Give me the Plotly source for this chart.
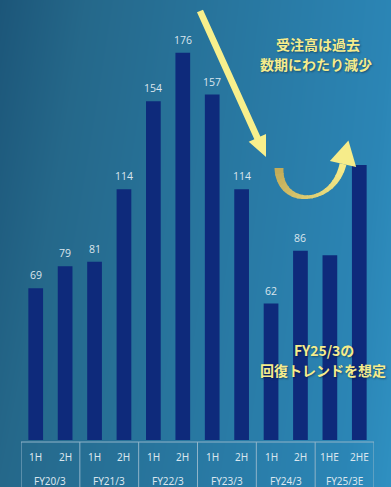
import numpy as np
import plotly.graph_objects as go

# ---- data ----
periods = ["FY20/3", "FY21/3", "FY22/3", "FY23/3", "FY24/3", "FY25/3E"]
halves = [["1H", "2H"]] * 5 + [["1HE", "2HE"]]
orders = [69, 79, 81, 114, 154, 176, 157, 114, 62, 86, 84, 125]
labelled = [True] * 10 + [False, False]
note_top = ["受注高は過去", "数期にわたり減少"]
note_bottom = ["FY25/3の", "回復トレンドを想定"]

W, H = 391, 487
categories = [f"{p} {h}" for p, hs in zip(periods, halves) for h in hs]

BAR = "#0e2a7b"
YELLOW = "#f6ec8c"
PALE = "#dbe6ee"
LINE = "#8fb4c9"

fig = go.Figure()

# background gradient on a full-page pixel axis
fig.add_trace(go.Heatmap(
    x=[0, W], y=[0, H], z=[[0.0, 0.9], [0.2, 1.0]], zsmooth="best",
    colorscale=[[0, "#1c5679"], [0.2, "#25688a"], [0.9, "#2b85b5"], [1, "#2f90c1"]],
    showscale=False, hoverinfo="skip", xaxis="x", yaxis="y"))

# order bars
fig.add_trace(go.Bar(
    x=categories, y=orders, xaxis="x2", yaxis="y2",
    marker=dict(color=BAR, line=dict(width=0)), width=0.5, hoverinfo="skip"))

annotations = []
for c, v, show in zip(categories, orders, labelled):
    if show:
        annotations.append(dict(
            x=c, y=v, xref="x2", yref="y2", text=str(v), showarrow=False,
            yanchor="bottom", yshift=4,
            font=dict(family="Open Sans", size=10.5, color=PALE)))

# table under the bars
shapes = [dict(type="rect", xref="x2", yref="y", x0=-0.5, x1=len(categories) - 0.5,
               y0=442, y1=495, line=dict(color=LINE, width=1), layer="above")]
for k in range(1, len(periods)):
    xb = 2 * k - 0.5
    shapes.append(dict(type="line", xref="x2", yref="y", x0=xb, x1=xb, y0=442, y1=495,
                       line=dict(color=LINE, width=1), layer="above"))
for i, (p, hs) in enumerate(zip(periods, halves)):
    for j, h in enumerate(hs):
        annotations.append(dict(x=2 * i + j, y=457, xref="x2", yref="y", text=h,
                                showarrow=False,
                                font=dict(family="Noto Sans", size=10, color=PALE)))
    annotations.append(dict(x=2 * i + 0.5, y=481, xref="x2", yref="y", text=p,
                            showarrow=False,
                            font=dict(family="Noto Sans", size=10, color=PALE)))

# callout texts
jp_font = dict(family="Noto Sans CJK JP", size=14, color=YELLOW, weight="bold",
               shadow="1px 1px 2px rgba(0,20,40,0.45)")
for txt, (cx, cy) in zip(note_top, [(318, 44), (316, 64)]):
    annotations.append(dict(x=cx, y=cy, xref="x", yref="y", text=txt,
                            showarrow=False, font=jp_font, borderpad=0))
for txt, (cx, cy) in zip(note_bottom, [(324, 350), (323, 370)]):
    annotations.append(dict(x=cx, y=cy, xref="x", yref="y", text=txt,
                            showarrow=False, font=jp_font, borderpad=0))


def path(pts):
    return "M " + " L ".join(f"{x:.2f},{y:.2f}" for x, y in pts) + " Z"


# straight downward arrow
tail = np.array([200.0, 11.0])
tip = np.array([266.0, 157.0])
u = (tip - tail) / np.linalg.norm(tip - tail)
n = np.array([-u[1], u[0]])
base = tip - u * 21
sw, hw = 3.3, 9.5
arrow_pts = [tail + n * sw, base + n * sw, base + n * hw, tip,
             base - n * hw, base - n * sw, tail - n * sw]
shapes.append(dict(type="path", xref="x", yref="y", path=path(arrow_pts),
                   fillcolor="#f8ef8c", line=dict(width=0), layer="above"))

# curved rebound arrow (cubic ribbon with tapering width)
P = np.array([[279, 168], [279, 208], [333, 207], [343, 164]], dtype=float)


def bez(t):
    t = np.atleast_1d(t)[:, None]
    return ((1 - t) ** 3) * P[0] + 3 * (1 - t) ** 2 * t * P[1] + 3 * (1 - t) * t ** 2 * P[2] + t ** 3 * P[3]


def dbez(t):
    t = np.atleast_1d(t)[:, None]
    return 3 * (1 - t) ** 2 * (P[1] - P[0]) + 6 * (1 - t) * t * (P[2] - P[1]) + 3 * t ** 2 * (P[3] - P[2])


def thick(t):
    return np.interp(t, [0, 0.5, 0.62, 1.0], [9.0, 3.5, 3.5, 7.0])


def hexmix(a, b, f):
    ca = np.array([int(a[i:i + 2], 16) for i in (1, 3, 5)])
    cb = np.array([int(b[i:i + 2], 16) for i in (1, 3, 5)])
    c = (ca + (cb - ca) * f).round().astype(int)
    return "#%02x%02x%02x" % tuple(c)


nseg = 18
edges = np.linspace(0, 1, nseg + 1)
for s in range(nseg):
    ts = np.linspace(max(edges[s] - 0.006, 0), min(edges[s + 1] + 0.006, 1), 6)
    c = bez(ts)
    d = dbez(ts)
    d = d / np.linalg.norm(d, axis=1)[:, None]
    nn = np.stack([-d[:, 1], d[:, 0]], axis=1)
    half = (thick(ts) / 2)[:, None]
    left = c + nn * half
    right = c - nn * half
    pts = list(left) + list(right[::-1])
    f = (edges[s] + edges[s + 1]) / 2
    col = hexmix("#c2aa58", "#f6ec8a", f)
    shapes.append(dict(type="path", xref="x", yref="y", path=path(pts),
                       fillcolor=col, line=dict(width=0), layer="above"))

end = bez(1.0)[0]
ud = dbez(1.0)[0]
ud = ud / np.linalg.norm(ud)
nd = np.array([-ud[1], ud[0]])
head = [end + nd * 13.5, end + ud * 24, end - nd * 13.5]
shapes.append(dict(type="path", xref="x", yref="y", path=path(head),
                   fillcolor="#f6ec8a", line=dict(width=0), layer="above"))

fig.update_layout(
    width=W, height=H, margin=dict(l=0, r=0, t=0, b=0),
    paper_bgcolor="#25688a", plot_bgcolor="rgba(0,0,0,0)",
    showlegend=False, bargap=0.5,
    xaxis=dict(domain=[0, 1], range=[0, W], visible=False, fixedrange=True),
    yaxis=dict(domain=[0, 1], range=[H, 0], visible=False, fixedrange=True),
    xaxis2=dict(domain=[21 / W, 374 / W], anchor="y2", type="category",
                categoryarray=categories, range=[-0.5, len(categories) - 0.5],
                visible=False, fixedrange=True),
    yaxis2=dict(domain=[(H - 440) / H, 1], anchor="x2", range=[0, 200],
                visible=False, fixedrange=True),
    annotations=annotations, shapes=shapes,
)

fig.write_html("out.html")
